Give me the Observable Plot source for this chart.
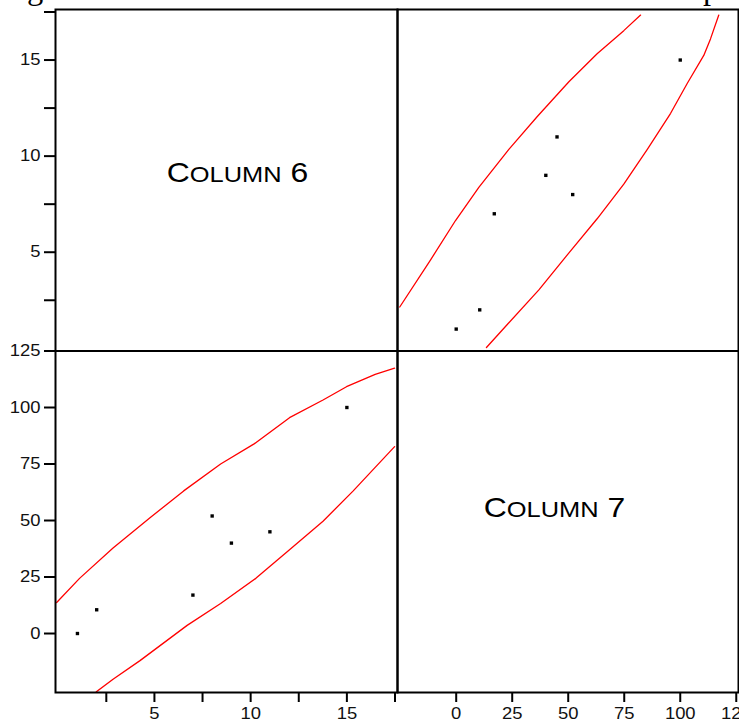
<!DOCTYPE html>
<html><head><meta charset="utf-8">
<script src="https://cdn.jsdelivr.net/npm/d3@7"></script>
<script src="https://cdn.jsdelivr.net/npm/@observablehq/plot@0.6"></script>
<style>
html,body{margin:0;padding:0;background:#fff;overflow:hidden;}
#wrap{position:relative;width:739px;height:723px;overflow:hidden;background:#fff;}
#wrap svg{position:absolute;left:0;top:0;}
#title{position:absolute;left:0px;top:-28px;font-family:"Liberation Serif","Times New Roman",serif;font-size:32.5px;line-height:33px;white-space:nowrap;color:#000;}
</style></head><body>
<div id="wrap"><div id="title">Figure 3.4 Correlation between the factors and the output</div></div>
<script>
// Variables
const columnNames = ["Column 6", "Column 7"];
const column6 = [1, 2, 7, 8, 9, 11, 15];
const column7 = [0, 10.5, 17, 52, 40, 45, 100];

// Scale extents
const column6Domain = [-0.14, 17.63];
const column7DomainX = [-26.2, 126];
const column7DomainY = [-26.1, 125];

// Tick values
const column6Ticks = [2.5, 5, 7.5, 10, 12.5, 15, 17.5];
const column7Ticks = [0, 25, 50, 75, 100, 125];

// Confidence ellipse, panel x = Column 6, y = Column 7
const blUpperX = [-0.08, 1.11, 2.85, 4.77, 6.52, 8.44, 10.18, 12.02, 13.76, 14.98, 16.47, 17.48];
const blUpperY = [13.7, 24.4, 37.8, 51.2, 63.1, 75, 83.9, 95.5, 103.3, 109.2, 114.7, 117.4];
const blLowerX = [1.98, 2.85, 4.25, 6.7, 8.44, 10.27, 12.02, 13.76, 15.33, 16.47, 17.48];
const blLowerY = [-25.8, -20.2, -12, 3.6, 13.3, 24.4, 37.1, 49.7, 63.1, 73.5, 82.7];

// Confidence ellipse, panel x = Column 7, y = Column 6
const trUpperX = [-25.2, -11.5, -0.3, 10.1, 23.5, 36.2, 50.3, 62.9, 74.8, 82.3];
const trUpperY = [2.15, 4.59, 6.65, 8.37, 10.35, 12.06, 13.87, 15.33, 16.53, 17.34];
const trLowerX = [13.5, 22.8, 36.9, 49.5, 62.9, 74.8, 85.3, 95.7, 103.1, 110.5, 113.5, 117.2];
const trLowerY = [0.04, 1.24, 3.04, 4.85, 6.74, 8.54, 10.35, 12.23, 13.78, 15.24, 16.1, 17.34];

const W = 739, H = 723;
const xL = 55, xM = 397, xR = 738;
const yT = 9, yM = 350.5, yB = 692;

const style = "background: transparent; font-family: 'Liberation Sans', Arial, sans-serif; font-size: 16px; color: black;";
const fmt6 = d => (d % 5 === 0 ? String(d) : "");
const frame = Plot.frame({stroke: "black", strokeWidth: 2});
const ell = (xs, ys) => Plot.line(xs, {x: xs, y: ys, stroke: "#ff0000", strokeWidth: 1.3, clip: true});
const pts = (xs, ys) => Plot.dot(xs, {x: xs, y: ys, symbol: "square", r: 1.9, fill: "black", stroke: null});
const axisOpts = {tickSize: 11, tickPadding: 4, strokeWidth: 2, label: null, fontSize: 16, fill: "#111"};

const label = (name, dx, dy) => Plot.text([name], {frameAnchor: "middle", text: d => d, dx, dy, fontSize: 28, fill: "black"});

const tl = Plot.plot({
  width: W, height: H, style,
  marginLeft: xL, marginRight: W - xM, marginTop: yT, marginBottom: H - yM,
  y: {domain: column6Domain},
  marks: [
    Plot.axisY(column6Ticks, {...axisOpts, tickFormat: fmt6}),
    label(columnNames[0], 11, -7),
    frame
  ]
});

const tr = Plot.plot({
  width: W, height: H, style,
  marginLeft: xM, marginRight: W - xR, marginTop: yT, marginBottom: H - yM,
  x: {domain: column7DomainX, axis: null},
  y: {domain: column6Domain, axis: null},
  marks: [
    ell(trUpperX, trUpperY),
    ell(trLowerX, trLowerY),
    pts(column7, column6),
    frame
  ]
});

const bl = Plot.plot({
  width: W, height: H, style,
  marginLeft: xL, marginRight: W - xM, marginTop: yM, marginBottom: H - yB,
  x: {domain: column6Domain},
  y: {domain: column7DomainY},
  marks: [
    Plot.axisY(column7Ticks, axisOpts),
    Plot.axisX(column6Ticks, {...axisOpts, tickSize: 10, tickPadding: 5, tickFormat: fmt6}),
    ell(blUpperX, blUpperY),
    ell(blLowerX, blLowerY),
    pts(column6, column7),
    frame
  ]
});

const br = Plot.plot({
  width: W, height: H, style,
  marginLeft: xM, marginRight: W - xR, marginTop: yM, marginBottom: H - yB,
  x: {domain: column7DomainX},
  marks: [
    Plot.axisX(column7Ticks, {...axisOpts, tickSize: 10, tickPadding: 5}),
    label(columnNames[1], -13.5, -13.5),
    frame
  ]
});

const wrap = document.getElementById("wrap");
[tl, tr, bl, br].forEach(s => wrap.appendChild(s));

// Horizontal stretch of the tick labels, as in the reference
wrap.querySelectorAll('g[aria-label$="tick label"] text').forEach(t => {
  const len = t.getComputedTextLength();
  if (len > 0) {
    t.setAttribute("textLength", (len * 1.15).toFixed(2));
    t.setAttribute("lengthAdjust", "spacingAndGlyphs");
  }
});

// Small-caps panel labels
wrap.querySelectorAll('g[aria-label="text"] text').forEach(t => {
  const s = t.textContent;
  t.textContent = "";
  for (const ch of s) {
    const ts = document.createElementNS("http://www.w3.org/2000/svg", "tspan");
    const lower = ch !== ch.toUpperCase();
    ts.setAttribute("font-size", lower ? 22.3 : 28);
    ts.textContent = ch.toUpperCase();
    t.appendChild(ts);
  }
  const len = t.getComputedTextLength();
  t.setAttribute("textLength", (len * 1.14).toFixed(2));
  t.setAttribute("lengthAdjust", "spacingAndGlyphs");
});
</script>
</body></html>
